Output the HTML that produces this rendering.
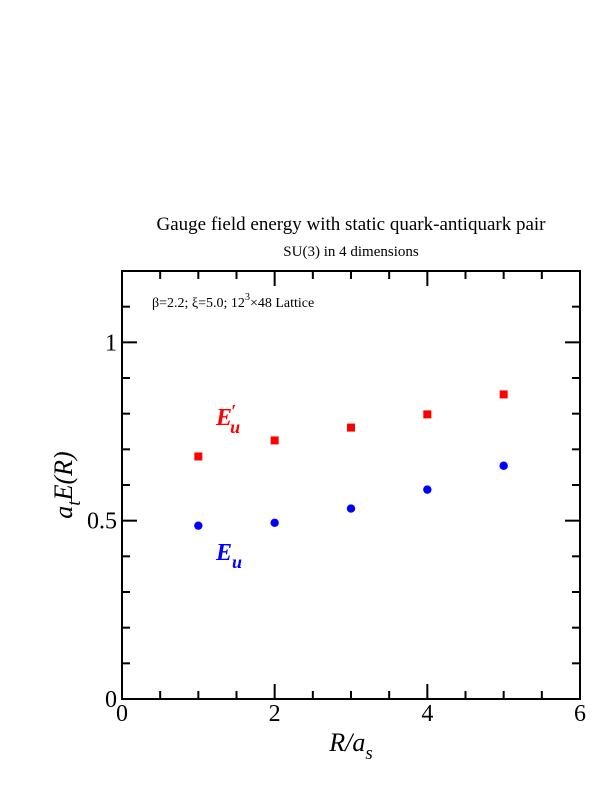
<!DOCTYPE html>
<html><head><meta charset="utf-8"><style>body{margin:0;background:#fff}svg{display:block}</style></head>
<body>
<svg width="612" height="792" xmlns="http://www.w3.org/2000/svg" font-family="Liberation Serif, serif">
<text x="351" y="230" font-size="19" text-anchor="middle">Gauge field energy with static quark-antiquark pair</text>
<text x="351" y="256" font-size="15" text-anchor="middle">SU(3) in 4 dimensions</text>
<rect x="122" y="271" width="458" height="428" fill="none" stroke="#000" stroke-width="2"/>
<g id="ticks"></g>
<g id="marks"></g>
<text x="152" y="307" font-size="14">β=2.2;  ξ=5.0; 12<tspan dy="-7" font-size="10">3</tspan><tspan dy="7">×48 Lattice</tspan></text>
<text x="216" y="425" font-size="24" font-weight="bold" font-style="italic" fill="#f00">E<tspan font-size="18" dx="-1" dy="-8">′</tspan><tspan font-size="18" dx="-6" dy="16">u</tspan></text>
<text x="216" y="560" font-size="24" font-weight="bold" font-style="italic" fill="#00f">E<tspan font-size="18" dy="8">u</tspan></text>
<text x="351" y="751" font-size="26" font-style="italic" text-anchor="middle">R/a<tspan font-size="19" dy="8">s</tspan></text>
<text transform="translate(72,485) rotate(-90)" font-size="26" font-style="italic" text-anchor="middle">a<tspan font-size="19" dy="8">t</tspan><tspan dy="-8">E(R)</tspan></text>
<script>
const xTicks=[0,2,4,6];
const yTicks=[0,0.5,1];
const yTickLabels=["0","0.5","1"];
const categories=[1,2,3,4,5];
const euPrime=[0.680,0.725,0.761,0.798,0.854];
const eu=[0.486,0.494,0.534,0.587,0.654];
const X=v=>122+v*458/6, Y=v=>699-v*428/1.2;
const NS="http://www.w3.org/2000/svg";
const tg=document.getElementById('ticks'), mg=document.getElementById('marks');
function ln(x1,y1,x2,y2){const l=document.createElementNS(NS,'line');l.setAttribute('x1',x1);l.setAttribute('y1',y1);l.setAttribute('x2',x2);l.setAttribute('y2',y2);l.setAttribute('stroke','#000');l.setAttribute('stroke-width','2');


tg.appendChild(l);}
function tx(x,y,s,a){const t=document.createElementNS(NS,'text');t.setAttribute('x',x);t.setAttribute('y',y);t.setAttribute('font-size','24');t.setAttribute('text-anchor',a);t.textContent=s;


tg.appendChild(t);}
for(let v=0;v<=6.001;v+=0.5){const maj=Math.abs(v/2-Math.round(v/2))<1e-6;const L=maj?15:8;const x=X(v);ln(x,699,x,699-L);ln(x,271,x,271+L);}
xTicks.forEach(v=>tx(X(v),721,String(v),'middle'));
for(let i=0;i<=12;i++){const v=i/10;const maj=i%5===0;const L=maj?15:8;const y=Y(v);ln(122,y,122+L,y);ln(580,y,580-L,y);}
yTicks.forEach((v,i)=>tx(117,Y(v)+8,yTickLabels[i],'end'));
categories.forEach((c,i)=>{
 const r=document.createElementNS(NS,'rect');r.setAttribute('x',X(c)-4);r.setAttribute('y',Y(euPrime[i])-4);r.setAttribute('width',8);r.setAttribute('height',8);r.setAttribute('fill','#f00');
 
 
 mg.appendChild(r);
 const p=document.createElementNS(NS,'circle');p.setAttribute('cx',X(c));p.setAttribute('cy',Y(eu[i]));p.setAttribute('r',4.2);p.setAttribute('fill','#00f');
 
 
 mg.appendChild(p);
});
</script>
</svg>
</body></html>
